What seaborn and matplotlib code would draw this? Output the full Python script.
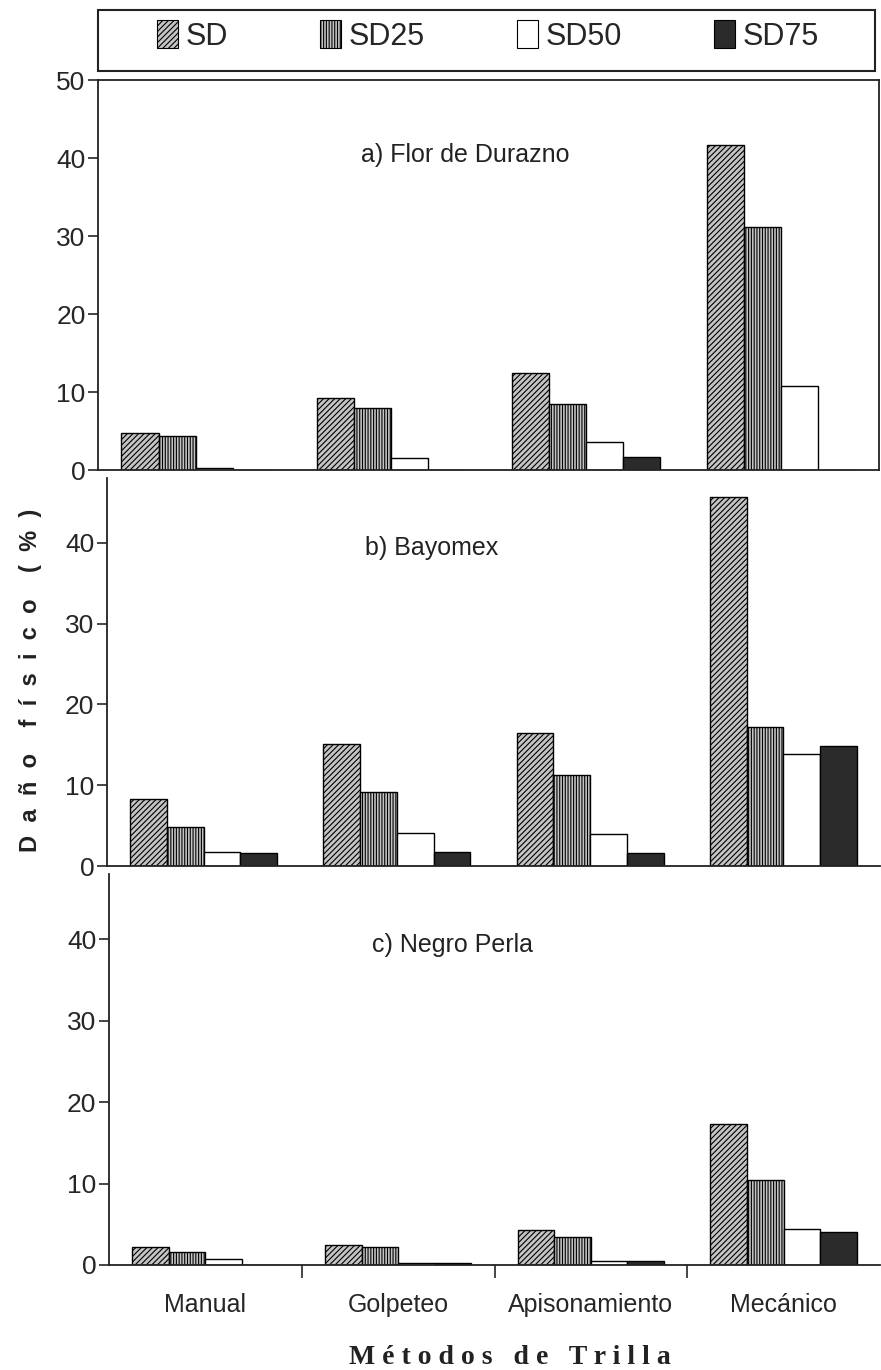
import numpy as np
import pandas as pd
import matplotlib
matplotlib.use('Agg')
import matplotlib.pyplot as plt
from matplotlib.patches import Patch, Rectangle
import matplotlib.transforms as mtransforms
import seaborn as sns

sns.set_style('white')
plt.rcParams['font.family'] = ['Liberation Sans', 'DejaVu Sans']
plt.rcParams['hatch.linewidth'] = 0.8

# data
metodos = ['Manual', 'Golpeteo', 'Apisonamiento', 'Mecánico']
niveles = ['SD', 'SD25', 'SD50', 'SD75']
titulos = ['a) Flor de Durazno', 'b) Bayomex', 'c) Negro Perla']

flor_sd = [4.8, 9.2, 12.5, 41.7]
flor_sd25 = [4.4, 8.0, 8.5, 31.2]
flor_sd50 = [0.3, 1.5, 3.6, 10.8]
flor_sd75 = [0.0, 0.0, 1.7, 0.0]

bayo_sd = [8.3, 15.1, 16.5, 45.7]
bayo_sd25 = [4.8, 9.2, 11.2, 17.2]
bayo_sd50 = [1.7, 4.1, 4.0, 13.9]
bayo_sd75 = [1.6, 1.7, 1.6, 14.9]

negro_sd = [2.2, 2.5, 4.3, 17.3]
negro_sd25 = [1.6, 2.2, 3.4, 10.4]
negro_sd50 = [0.7, 0.3, 0.5, 4.4]
negro_sd75 = [0.0, 0.3, 0.5, 4.0]

paneles = [
    [flor_sd, flor_sd25, flor_sd50, flor_sd75],
    [bayo_sd, bayo_sd25, bayo_sd50, bayo_sd75],
    [negro_sd, negro_sd25, negro_sd50, negro_sd75],
]

colores = ['#c4c4c4', '#c4c4c4', '#ffffff', '#2b2b2b']
hatches = ['//////', '||||||', '', '']

fig = plt.figure(figsize=(8.81, 13.70), dpi=100)

# axes positions [left, bottom, width, height] in figure fraction
posiciones = [
    [98 / 881, 1 - 470 / 1370, 781 / 881, 390 / 1370],
    [107 / 881, 1 - 866 / 1370, 773 / 881, 388 / 1370],
    [109 / 881, 1 - 1265 / 1370, 771 / 881, 391 / 1370],
]
ylims = [50, 48, 48]
title_pos = [(0.47, 40.4), (0.42, 39.4), (0.445, 39.3)]

for i, (vals, pos) in enumerate(zip(paneles, posiciones)):
    ax = fig.add_axes(pos)
    df = pd.DataFrame({
        'metodo': np.repeat(metodos, 4),
        'nivel': niveles * 4,
        'dano': [vals[j][k] for k in range(4) for j in range(4)],
    })
    sns.barplot(data=df, x='metodo', y='dano', hue='nivel', order=metodos,
                hue_order=niveles, palette=colores, saturation=1,
                edgecolor='black', linewidth=1.0, width=0.76, legend=False,
                ax=ax)
    for cont, h in zip(ax.containers, hatches):
        for bar in cont:
            bar.set_hatch(h)
    ax.set_xlim(-0.5, 3.5)
    ax.set_ylim(0, ylims[i])
    ax.set_yticks(np.arange(0, 51, 10) if i == 0 else np.arange(0, 41, 10))
    ax.tick_params(axis='y', direction='out', length=7, width=1.2,
                   labelsize=19, pad=2, left=True)
    ax.set_xlabel('')
    ax.set_ylabel('')
    for s in ax.spines.values():
        s.set_linewidth(1.3)
        s.set_color('#222222')
    if i > 0:
        ax.spines['top'].set_visible(False)
        ax.spines['right'].set_visible(False)
    trans = mtransforms.blended_transform_factory(ax.transAxes, ax.transData)
    ax.text(title_pos[i][0], title_pos[i][1], titulos[i], fontsize=18,
            color='#222222', ha='center', va='center', transform=trans)
    if i < 2:
        ax.set_xticks([])
    else:
        ax.set_xticks(range(4))
        ax.set_xticklabels(metodos, fontsize=18)
        ax.set_xticks([0.5, 1.5, 2.5], minor=True)
        ax.tick_params(axis='x', which='major', length=0, pad=20)
        ax.tick_params(axis='x', which='minor', direction='out', length=9,
                       width=1.2, bottom=True)

# legend box at the top
fig.add_artist(Rectangle((98 / 881, 1 - 71 / 1370), 777 / 881, 61 / 1370,
                         transform=fig.transFigure, fill=False,
                         edgecolor='#222222', linewidth=1.5))
handles = [Patch(facecolor=c, edgecolor='black', hatch=h, linewidth=0.8)
           for c, h in zip(colores, hatches)]
fig.legend(handles, niveles, loc='center left', ncol=4, mode='expand',
           bbox_to_anchor=(157 / 881, 1 - 36 / 1370, 662 / 881, 0),
           frameon=False, fontsize=22,
           handlelength=0.7, handleheight=1.0, handletextpad=0.25,
           borderaxespad=0.0, borderpad=0.0)

fig.text(0.035, 1 - 680 / 1370,
         'D  a  ñ  o    f  í  s  i  c  o    (  %  )', rotation=90,
         fontsize=17, fontweight='bold', ha='center', va='center',
         color='#222222')
fig.text(510 / 881, 1 - 1357 / 1370, 'M é t o d o s   d e   T r i l l a',
         fontsize=20, fontweight='bold', ha='center', va='center',
         family=['Liberation Serif', 'DejaVu Serif'], color='#222222')

fig.savefig('out.png', dpi=100, facecolor='white')
